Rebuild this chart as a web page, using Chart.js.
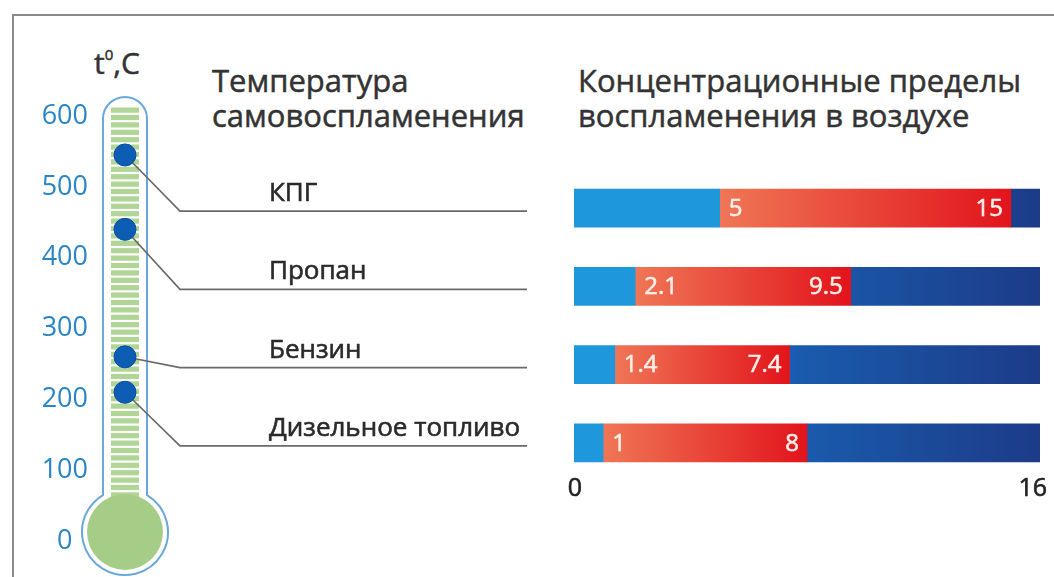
<!DOCTYPE html>
<html>
<head>
  <meta charset="utf-8">
  <title>Температура самовоспламенения и пределы воспламенения</title>
  <script src="https://cdn.jsdelivr.net/npm/chart.js"></script>
  <style>
    body { margin: 0; width: 1054px; height: 577px; position: relative; overflow: hidden; background: #fff; font-family: "Open Sans", sans-serif; }
    .frame { position: absolute; left: 12px; top: 14px; width: 1100px; height: 600px; border-top: 2px solid #8a8a8a; border-left: 2px solid #8a8a8a; }
    canvas { position: absolute; left: 0; top: 0; }
    .head { position: absolute; top: 63px; font-size: 31px; line-height: 35px; color: #333; white-space: nowrap; -webkit-text-stroke: 0.5px #333; }
    .unit { position: absolute; left: 94px; top: 42px; font-size: 30px; color: #333; -webkit-text-stroke: 0.5px #333; }
    .unit sup { font-size: 15px; vertical-align: 14px; }
  </style>
</head>
<body>
  <div class="frame"></div>
  <div class="unit">t<sup>0</sup>,C</div>
  <div class="head" style="left:212px">Температура<br>самовоспламенения</div>
  <div class="head" style="left:578px">Концентрационные пределы<br>воспламенения в воздухе</div>
  <canvas id="barChart" width="1054" height="577"></canvas>
  <canvas id="thermoChart" width="1054" height="577"></canvas>

  <script>
    const fuels = ['КПГ', 'Пропан', 'Бензин', 'Дизельное топливо'];
    const ignitionTemp = [545, 440, 260, 210];
    const lowerLimit = [5, 2.1, 1.4, 1];
    const upperLimit = [15, 9.5, 7.4, 8];
    const concTicks = [0, 16];
    const tempTicks = [0, 100, 200, 300, 400, 500, 600];

    const concMin = concTicks[0];
    const concMax = concTicks[concTicks.length - 1];

    function redFill(ctx) {
      const chart = ctx.chart;
      if (!chart.chartArea || ctx.dataIndex === undefined) return '#e8312a';
      const x = chart.scales.x;
      const g = chart.ctx.createLinearGradient(
        x.getPixelForValue(lowerLimit[ctx.dataIndex]), 0,
        x.getPixelForValue(upperLimit[ctx.dataIndex]), 0);
      g.addColorStop(0, '#ef7656');
      g.addColorStop(1, '#e2141b');
      return g;
    }

    function darkBlueFill(ctx) {
      const chart = ctx.chart;
      if (!chart.chartArea) return '#1b4f9e';
      const g = chart.ctx.createLinearGradient(chart.chartArea.left, 0, chart.chartArea.right, 0);
      g.addColorStop(0, '#1879d0');
      g.addColorStop(1, '#1c3b88');
      return g;
    }

    // slightly heavier text than the regular face
    function boldText(ctx, text, x, y, color) {
      ctx.fillStyle = color;
      ctx.strokeStyle = color;
      ctx.lineWidth = 0.6;
      ctx.fillText(text, x, y);
      ctx.strokeText(text, x, y);
    }

    // numbers inside the red segment and the two axis end labels
    const limitLabels = {
      id: 'limitLabels',
      afterDatasetsDraw(chart) {
        const ctx = chart.ctx;
        const meta = chart.getDatasetMeta(1);
        ctx.save();
        ctx.font = '24px "Open Sans"';
        ctx.textBaseline = 'middle';
        meta.data.forEach((bar, i) => {
          const left = Math.min(bar.x, bar.base);
          const right = Math.max(bar.x, bar.base);
          ctx.textAlign = 'left';
          boldText(ctx, String(lowerLimit[i]), left + 9, bar.y + 1, '#fdeee8');
          ctx.textAlign = 'right';
          boldText(ctx, String(upperLimit[i]), right - 8, bar.y + 1, '#fdeee8');
        });

        const x = chart.scales.x;
        const a = chart.chartArea;
        ctx.font = '25px "Open Sans"';
        ctx.textAlign = 'center';
        x.ticks.forEach(t => {
          const label = String(t.value);
          const w = ctx.measureText(label).width;
          const px = Math.min(x.getPixelForValue(t.value), a.right + 6 - w / 2);
          boldText(ctx, label, px + 1, a.bottom + 7, '#222');
        });
        ctx.restore();
      }
    };

    const barChart = new Chart(document.getElementById('barChart'), {
      type: 'bar',
      data: {
        labels: fuels,
        datasets: [
          {
            label: 'ниже предела',
            data: lowerLimit.map(v => [concMin, v]),
            backgroundColor: '#1e97dd'
          },
          {
            label: 'пределы воспламенения',
            data: lowerLimit.map((v, i) => [v, upperLimit[i]]),
            backgroundColor: redFill
          },
          {
            label: 'выше предела',
            data: upperLimit.map(v => [v, concMax]),
            backgroundColor: darkBlueFill
          }
        ]
      },
      options: {
        indexAxis: 'y',
        responsive: false,
        animation: false,
        events: [],
        datasets: { bar: { grouped: false, barThickness: 38, borderWidth: 0 } },
        layout: { padding: { left: 574, right: 14, top: 169, bottom: 0 } },
        plugins: { legend: { display: false }, tooltip: { enabled: false } },
        scales: {
          y: { display: false },
          x: {
            min: concMin,
            max: concMax,
            grid: { display: false, drawTicks: false },
            border: { display: false },
            afterBuildTicks: s => { s.ticks = concTicks.map(v => ({ value: v })); },
            afterFit: s => { s.height = 95; },
            ticks: { display: false }
          }
        }
      },
      plugins: [limitLabels]
    });

    // thermometer body, connectors and fuel names
    const thermometer = {
      id: 'thermometer',
      beforeDatasetsDraw(chart) {
        const ctx = chart.ctx;
        const a = chart.chartArea;
        const y = chart.scales.y;
        const cx = (a.left + a.right) / 2;
        const hw = 22;
        const topY = y.getPixelForValue(627);
        const R = 43;
        const by = y.getPixelForValue(0) - 9;
        const dy = Math.sqrt(R * R - hw * hw);
        const t1 = Math.atan2(-dy, hw);

        ctx.save();
        ctx.beginPath();
        ctx.moveTo(cx - hw, topY + hw);
        ctx.arc(cx, topY + hw, hw, Math.PI, 0);
        ctx.lineTo(cx + hw, by - dy);
        ctx.arc(cx, by, R, t1, Math.PI - t1);
        ctx.closePath();
        ctx.fillStyle = '#fff';
        ctx.fill();
        ctx.lineWidth = 2;
        ctx.strokeStyle = '#6aa8da';
        ctx.stroke();

        // striped column
        ctx.fillStyle = '#b0d597';
        const stripeTop = y.getPixelForValue(612);
        const stripeBottom = by - R + 8;
        for (let s = stripeTop; s < stripeBottom; s += 7.4) {
          ctx.fillRect(cx - 14, s, 28, 5.2);
        }
        ctx.beginPath();
        ctx.arc(cx, by, R - 5, 0, Math.PI * 2);
        ctx.fillStyle = '#a6cd88';
        ctx.fill();

        // connectors to the rows of the bar chart
        const rows = barChart.scales.y;
        const pts = chart.getDatasetMeta(0).data;
        ctx.font = '26px "Open Sans"';
        ctx.textBaseline = 'alphabetic';
        fuels.forEach((name, i) => {
          const ry = rows.getPixelForValue(i) + 3;
          const p = pts[i];
          ctx.beginPath();
          ctx.moveTo(p.x, p.y);
          ctx.lineTo(180, ry);
          ctx.lineTo(527, ry);
          ctx.strokeStyle = '#6a6a6a';
          ctx.lineWidth = 1.6;
          ctx.stroke();
          boldText(ctx, name, 269, ry - 10, '#2a2a2a');
        });
        ctx.restore();
      }
    };

    new Chart(document.getElementById('thermoChart'), {
      type: 'scatter',
      data: {
        datasets: [{
          label: 'Температура самовоспламенения',
          data: ignitionTemp.map(t => ({ x: 0.5, y: t })),
          pointRadius: 11,
          pointBackgroundColor: '#0c5db3',
          pointBorderColor: '#0a4f9c',
          pointBorderWidth: 1
        }]
      },
      options: {
        responsive: false,
        animation: false,
        events: [],
        clip: false,
        layout: { padding: { left: 24, right: 907, top: 116, bottom: 36 } },
        plugins: { legend: { display: false }, tooltip: { enabled: false } },
        scales: {
          x: { display: false, min: 0, max: 1 },
          y: {
            min: 0,
            max: 600,
            grid: { display: false, drawTicks: false },
            border: { display: false },
            afterBuildTicks: s => { s.ticks = tempTicks.map(v => ({ value: v })); },
            afterFit: s => { s.width = 79; },
            ticks: {
              padding: 15,
              crossAlign: 'center',
              color: '#2a85c6',
              font: { family: '"Open Sans"', size: 27 }
            }
          }
        }
      },
      plugins: [thermometer]
    });
  </script>
</body>
</html>
